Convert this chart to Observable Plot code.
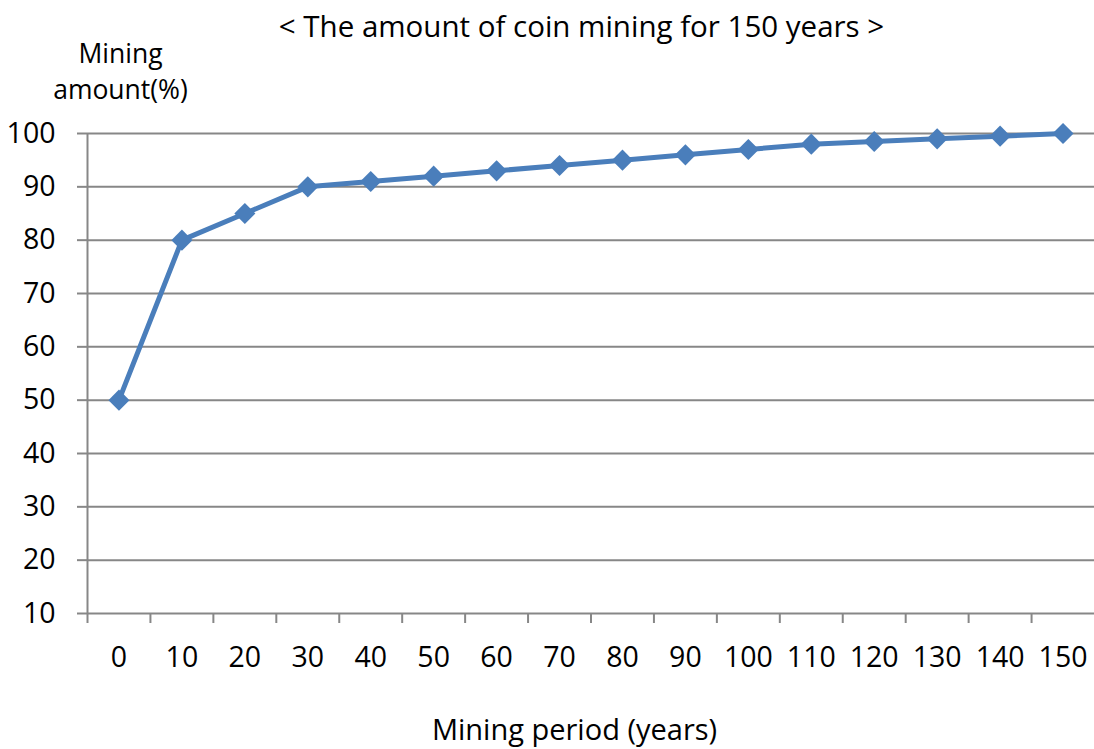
<!DOCTYPE html>
<html>
<head>
<meta charset="utf-8">
<script src="https://cdn.jsdelivr.net/npm/d3@7"></script>
<script src="https://cdn.jsdelivr.net/npm/@observablehq/plot@0.6"></script>
<style>
  html, body { margin: 0; padding: 0; background: #fff; }
  #chart svg { display: block; }
</style>
</head>
<body>
<div id="chart"></div>
<script>
const years = ["0","10","20","30","40","50","60","70","80","90","100","110","120","130","140","150"];
const amounts = [50, 80, 85, 90, 91, 92, 93, 94, 95, 96, 97, 98, 98.5, 99, 99.5, 100];
const yTicks = [10, 20, 30, 40, 50, 60, 70, 80, 90, 100];
const title = "< The amount of coin mining for 150 years >";
const yLabel = "Mining\namount(%)";
const xLabel = "Mining period (years)";

const data = years.map((yr, i) => ({year: yr, amount: amounts[i]}));

const W = 1094, H = 749;
const mL = 87, mR = 0, mT = 133, mB = 136;
const step = (W - mL - mR) / years.length;
const font = "Open Sans, sans-serif";
const fs = 28.5;
const grey = "#878787";
const blue = "#4A7EBB";

const chart = Plot.plot({
  width: W,
  height: H,
  marginLeft: mL,
  marginRight: mR,
  marginTop: mT,
  marginBottom: mB,
  style: {fontFamily: font, fontSize: fs + "px", color: "#000", background: "#fff"},
  x: {type: "point", domain: years, padding: 0.5, round: false, axis: null},
  y: {domain: [10, 100], axis: null},
  marks: [
    Plot.axisY({ticks: yTicks, tickSize: 10, tickPadding: 22, stroke: grey, strokeWidth: 2, fontSize: fs, fill: "#000", label: null, strokeOpacity: 1}),
    Plot.gridY(yTicks, {stroke: grey, strokeWidth: 2, strokeOpacity: 1}),
    Plot.ruleX([years[0]], {dx: -step / 2, y1: 10, y2: 100, stroke: grey, strokeWidth: 2}),
    Plot.axisX({ticks: years, tickSize: 10, tickFormat: () => "", dx: -step / 2, stroke: grey, strokeWidth: 2, label: null}),
    Plot.axisX({ticks: years, tickSize: 0, tickPadding: 33, fontSize: fs, fill: "#000", label: null}),
    Plot.line(data, {x: "year", y: "amount", stroke: blue, strokeWidth: 5, strokeLinejoin: "round"}),
    Plot.dot(data, {x: "year", y: "amount", symbol: "diamond2", r: 9.5, fill: blue, stroke: "none"}),
    Plot.text([title], {frameAnchor: "top-left", dx: 581 - mL, dy: 27 - mT, textAnchor: "middle", lineAnchor: "middle", fontSize: 29.5, fill: "#000"}),
    Plot.text([yLabel], {frameAnchor: "top-left", dx: 120 - mL, dy: 69 - mT, textAnchor: "middle", lineAnchor: "middle", lineHeight: 1.37, fontSize: 26.5, fill: "#000"}),
    Plot.text([xLabel], {frameAnchor: "bottom-left", dx: 574 - mL, dy: 730 - (H - mB), textAnchor: "middle", lineAnchor: "middle", fontSize: 29, fill: "#000"})
  ]
});
document.getElementById("chart").appendChild(chart);
</script>
</body>
</html>
